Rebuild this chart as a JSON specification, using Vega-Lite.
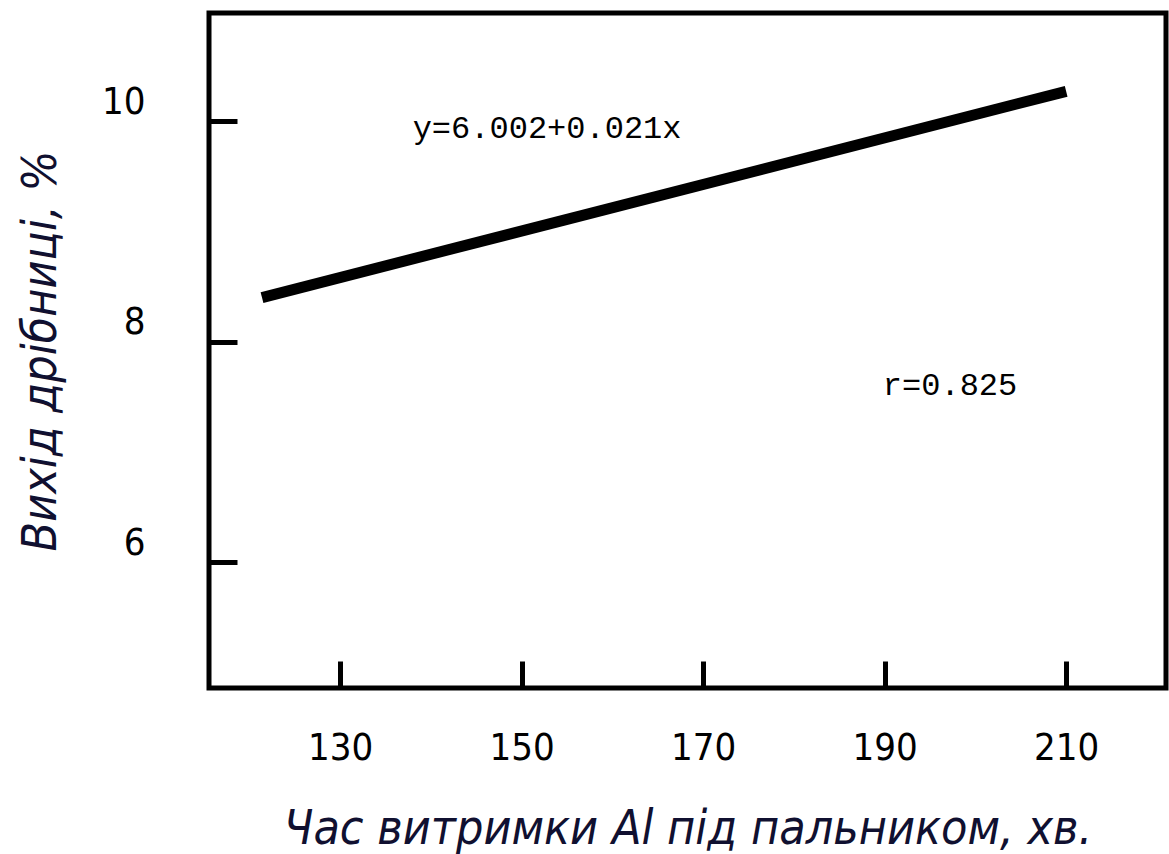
{
  "$schema": "https://vega.github.io/schema/vega-lite/v6.json",
  "autosize": {"type": "none"},
  "padding": {"left": 209, "top": 13, "right": 3, "bottom": 166},
  "width": 957,
  "height": 675,
  "background": "white",
  "config": {
    "view": {"stroke": "#000000", "strokeWidth": 5},
    "axis": {"grid": false, "domain": false}
  },
  "datasets": {
    "line": [
      {"t": 121.4, "v": 8.40},
      {"t": 210, "v": 10.27}
    ],
    "notes": [
      {"t": 138.0, "v": 9.94, "label": "y=6.002+0.021x"},
      {"t": 189.8, "v": 7.61, "label": "r=0.825"}
    ]
  },
  "layer": [
    {
      "data": {"name": "line"},
      "mark": {"type": "line", "color": "#000000", "strokeWidth": 11, "strokeCap": "butt"},
      "encoding": {
        "x": {
          "field": "t", "type": "quantitative",
          "scale": {"domain": [115.56, 221.0], "nice": false, "zero": false},
          "axis": {
            "values": [130, 150, 170, 190, 210], "format": "d",
            "tickSize": -27, "tickWidth": 5, "tickColor": "#000000",
            "labelPadding": 68, "labelFont": "DejaVu Sans Condensed, sans-serif",
            "labelFontSize": 38, "labelColor": "#000000", "labelBaseline": "top",
            "title": "Час витримки Al під пальником, хв.",
            "titleFont": "DejaVu Sans Condensed, sans-serif", "titleFontStyle": "italic", "titleFontWeight": "normal",
            "titleFontSize": 48, "titleColor": "#101030", "titlePadding": 38
          }
        },
        "y": {
          "field": "v", "type": "quantitative",
          "scale": {"domain": [4.86, 10.98], "nice": false, "zero": false},
          "axis": {
            "values": [6, 8, 10], "format": "d",
            "tickSize": -28, "tickWidth": 5, "tickColor": "#000000",
            "labelPadding": 92, "labelFont": "DejaVu Sans Condensed, sans-serif",
            "labelFontSize": 38, "labelColor": "#000000", "labelBaseline": "bottom",
            "title": "Вихід дрібниці, %",
            "titleFont": "DejaVu Sans Condensed, sans-serif", "titleFontStyle": "italic", "titleFontWeight": "normal",
            "titleFontSize": 48, "titleColor": "#101030", "titlePadding": 36
          }
        }
      }
    },
    {
      "data": {"name": "notes"},
      "mark": {"type": "text", "align": "left", "baseline": "middle", "font": "Liberation Mono, monospace", "fontSize": 32, "color": "#000000"},
      "encoding": {
        "x": {"field": "t", "type": "quantitative"},
        "y": {"field": "v", "type": "quantitative"},
        "text": {"field": "label"}
      }
    }
  ]
}
